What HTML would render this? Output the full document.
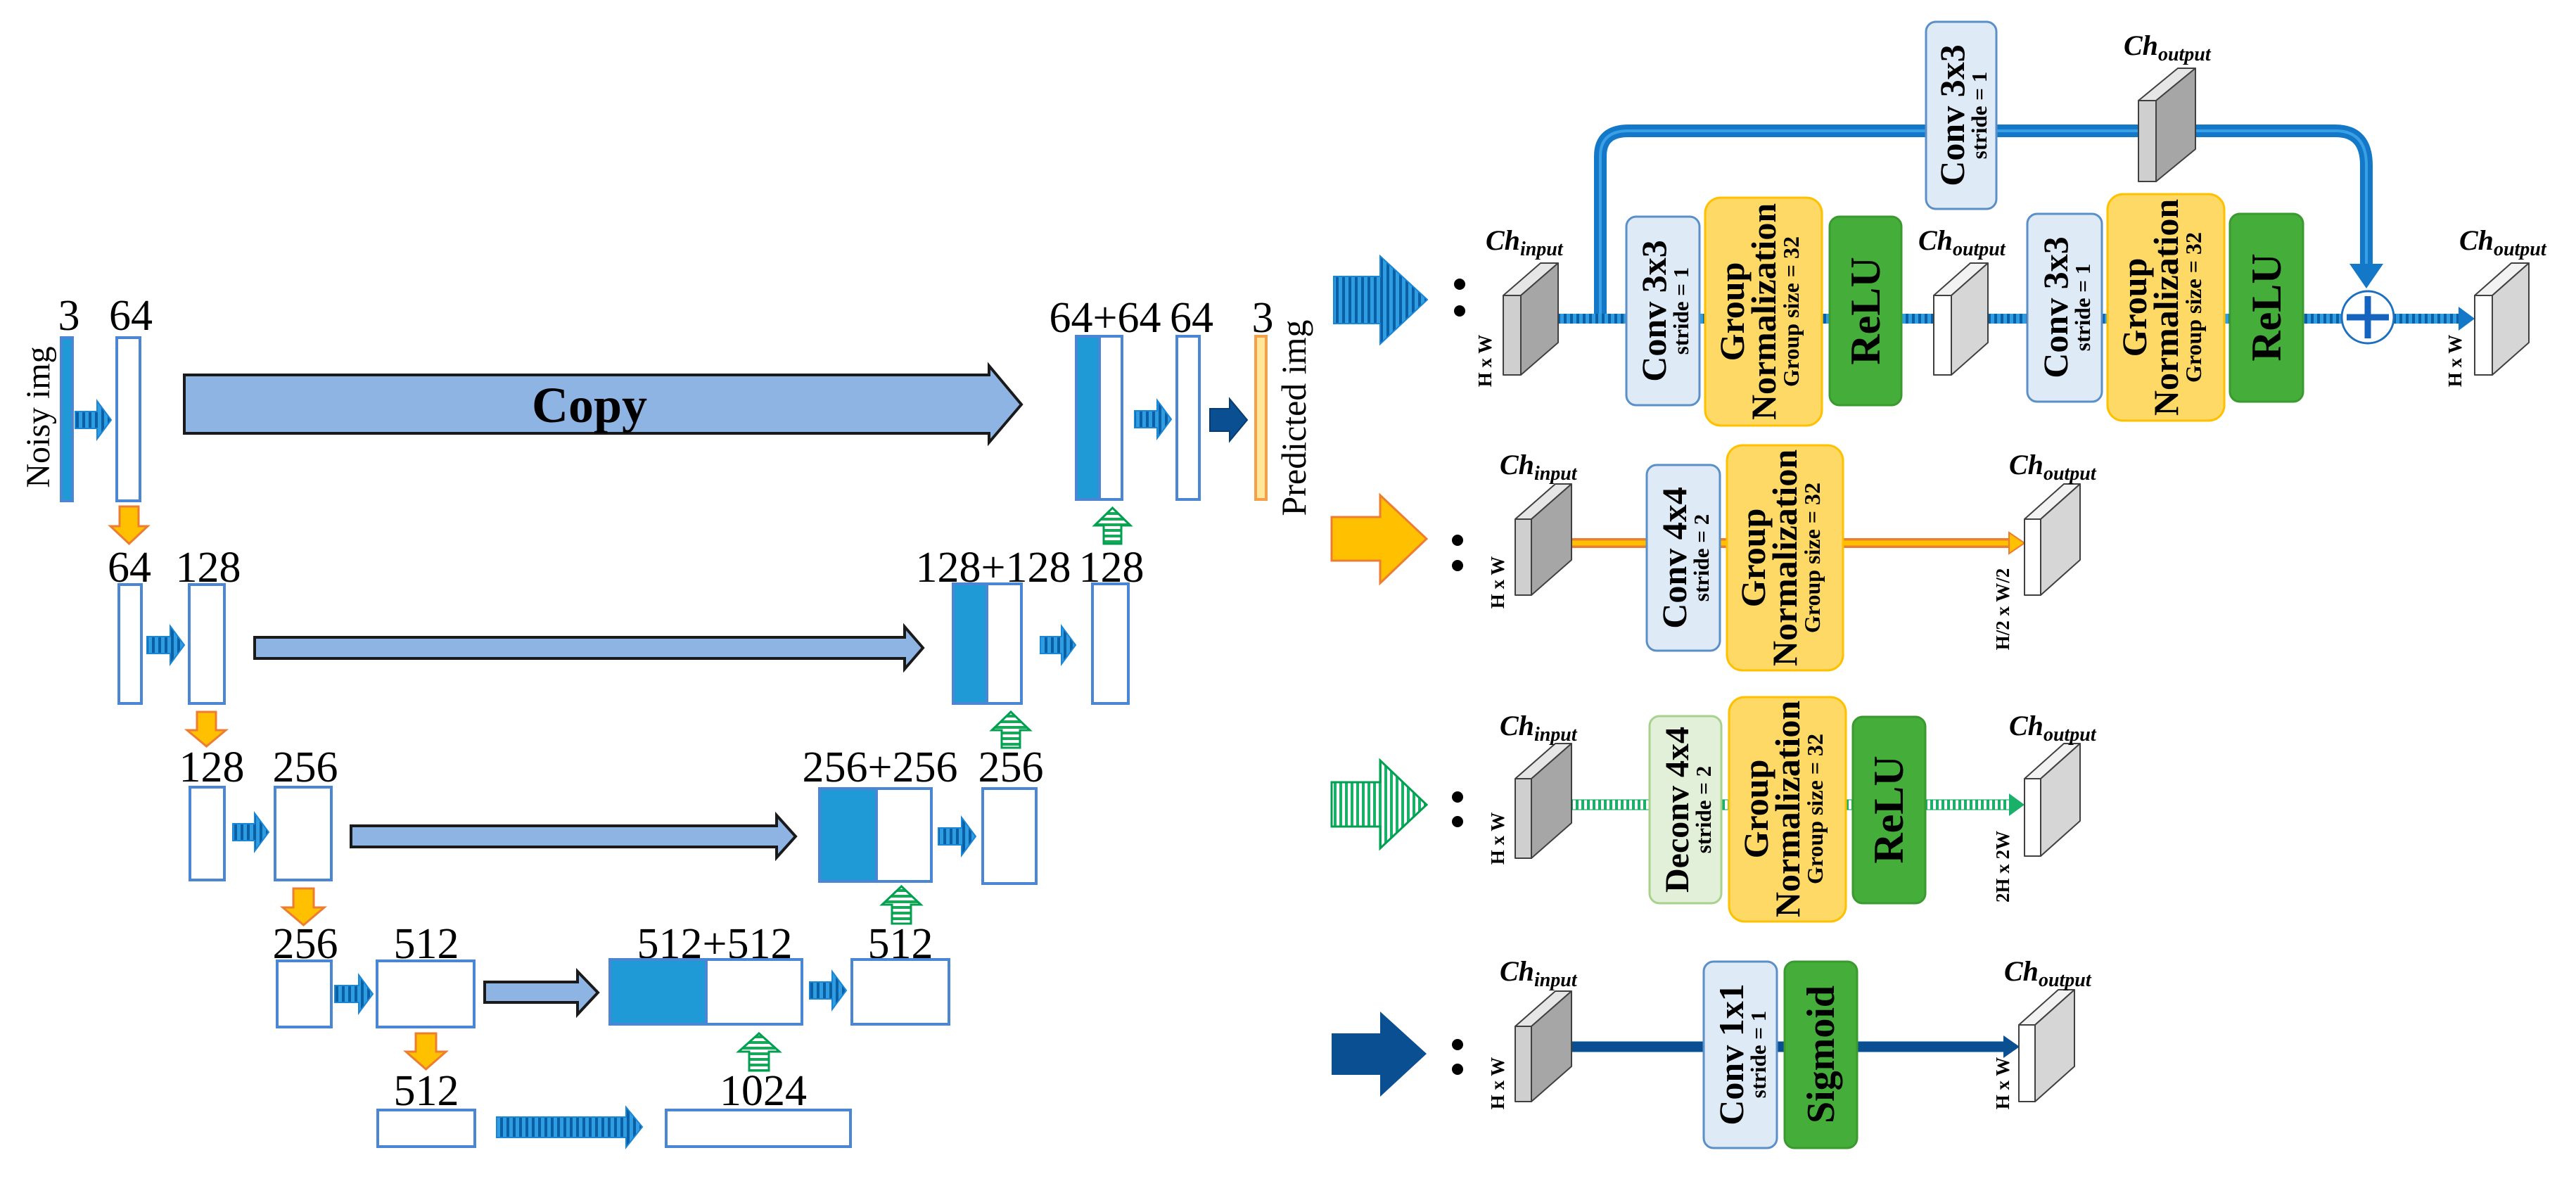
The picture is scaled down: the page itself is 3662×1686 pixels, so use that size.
<!DOCTYPE html>
<html><head><meta charset="utf-8"><style>
html,body{margin:0;padding:0;background:#fff;}
svg{display:block;}
text{font-family:"Liberation Serif",serif;}
</style></head><body>
<svg width="3662" height="1686" viewBox="0 0 3662 1686" xmlns="http://www.w3.org/2000/svg" font-family="Liberation Serif, serif">
<defs>
<pattern id="sb" patternUnits="userSpaceOnUse" width="9" height="9"><rect width="9" height="9" fill="#2f9de2"/><rect width="4" height="9" fill="#0b5fa5"/></pattern>
<pattern id="sg" patternUnits="userSpaceOnUse" width="8" height="8"><rect width="8" height="8" fill="#fff"/><rect width="4" height="8" fill="#19b06a"/></pattern>
<pattern id="sgh" patternUnits="userSpaceOnUse" width="8" height="8"><rect width="8" height="8" fill="#fff"/><rect width="8" height="4" fill="#19a85a"/></pattern>
</defs>

<!-- ================= U-NET ================= -->
<g font-size="62" text-anchor="middle" fill="#000">
<text x="98" y="469">3</text><text x="186" y="469">64</text>
<text x="1571" y="472">64+64</text><text x="1694" y="472">64</text><text x="1795" y="472">3</text>
<text x="184" y="827">64</text><text x="296" y="827">128</text><text x="1412" y="827">128+128</text><text x="1580" y="827">128</text>
<text x="301" y="1111">128</text><text x="434" y="1111">256</text><text x="1251" y="1111">256+256</text><text x="1437" y="1111">256</text>
<text x="434" y="1362">256</text><text x="606" y="1362">512</text><text x="1016" y="1362">512+512</text><text x="1280" y="1362">512</text>
<text x="606" y="1571">512</text><text x="1085" y="1571">1024</text>
</g>
<text transform="translate(70,593) rotate(-90)" font-size="48" text-anchor="middle">Noisy img</text>
<text transform="translate(1856,594) rotate(-90)" font-size="50" text-anchor="middle">Predicted img</text>

<g stroke="#4a86d4" stroke-width="4" fill="#fff">
<rect x="87" y="480" width="16" height="232" fill="#1f9ad6"/>
<rect x="166" y="480" width="33" height="232"/>
<rect x="1530" y="478" width="65" height="232"/>
<rect x="1530" y="478" width="33" height="232" fill="#1f9ad6"/>
<rect x="1673" y="478" width="32" height="232"/>
<rect x="169" y="831" width="32" height="169"/>
<rect x="269" y="831" width="50" height="169"/>
<rect x="1355" y="830" width="97" height="170"/>
<rect x="1355" y="830" width="48" height="170" fill="#1f9ad6"/>
<rect x="1553" y="830" width="51" height="170"/>
<rect x="270" y="1119" width="49" height="132"/>
<rect x="391" y="1119" width="80" height="132"/>
<rect x="1165" y="1121" width="159" height="132"/>
<rect x="1165" y="1121" width="81" height="132" fill="#1f9ad6"/>
<rect x="1397" y="1121" width="76" height="135"/>
<rect x="394" y="1366" width="77" height="94"/>
<rect x="536" y="1366" width="138" height="94"/>
<rect x="867" y="1364" width="273" height="92"/>
<rect x="867" y="1364" width="137" height="92" fill="#1f9ad6"/>
<rect x="1211" y="1364" width="138" height="92"/>
<rect x="537" y="1578" width="138" height="52"/>
<rect x="947" y="1578" width="262" height="52"/>
</g>
<rect x="1785" y="478" width="15" height="232" fill="#ffe699" stroke="#f4a04a" stroke-width="4"/>

<g fill="#8eb4e3" stroke="#1a1a1a" stroke-width="4">
<polygon points="262,533 1406,533 1406,520 1452,575 1406,629 1406,616 262,616"/>
<polygon points="362,906 1286,906 1286,891 1312,921 1286,951 1286,936 362,936"/>
<polygon points="499,1174 1104,1174 1104,1159 1131,1189 1104,1219 1104,1204 499,1204"/>
<polygon points="689,1396 821,1396 821,1381 850,1411 821,1442 821,1425 689,1425"/>
</g>
<text x="838" y="600" font-size="72" font-weight="bold" text-anchor="middle">Copy</text>

<g fill="url(#sb)" stroke="#1a86d6" stroke-width="2">
<polygon points="107,585 138,585 138,570 158,597 138,624 138,609 107,609"/>
<polygon points="209,905 242,905 242,890 262,917 242,944 242,929 209,929"/>
<polygon points="331,1171 362,1171 362,1156 382,1183 362,1210 362,1195 331,1195"/>
<polygon points="476,1401 510,1401 510,1386 530,1413 510,1440 510,1425 476,1425"/>
<polygon points="1151,1396 1183,1396 1183,1381 1203,1408 1183,1435 1183,1420 1151,1420"/>
<polygon points="1334,1177 1367,1177 1367,1162 1387,1189 1367,1216 1367,1201 1334,1201"/>
<polygon points="1479,905 1509,905 1509,890 1529,917 1509,944 1509,929 1479,929"/>
<polygon points="1613,584 1645,584 1645,569 1665,596 1645,623 1645,608 1613,608"/>
<polygon points="706,1588 890,1588 890,1574 913,1602 890,1631 890,1617 706,1617"/>
</g>
<polygon points="1720,581 1748,581 1748,567 1773,597 1748,627 1748,613 1720,613" fill="#0b4f93" stroke="#083b70" stroke-width="2"/>

<g fill="#ffc000" stroke="#ed7d31" stroke-width="3">
<polygon points="170,720 197,720 197,748 210,748 183.5,773 157,748 170,748"/>
<polygon points="280,1012 307,1012 307,1038 321,1038 293.5,1061 266,1038 280,1038"/>
<polygon points="417,1263 446,1263 446,1290 461,1290 431.5,1315 402,1290 417,1290"/>
<polygon points="591,1469 620,1469 620,1495 634,1495 605.5,1520 577,1495 591,1495"/>
</g>
<g fill="url(#sgh)" stroke="#00a050" stroke-width="3">
<polygon points="1581.5,722 1607,747 1594,747 1594,773 1569,773 1569,747 1556,747"/>
<polygon points="1437,1012 1464,1038 1450,1038 1450,1063 1424,1063 1424,1038 1410,1038"/>
<polygon points="1281.5,1260 1309,1286 1295,1286 1295,1313 1268,1313 1268,1286 1254,1286"/>
<polygon points="1079,1469 1108,1495 1093,1495 1093,1522 1065,1522 1065,1495 1050,1495"/>
</g>

<!-- ================= RIGHT BLOCKS ================= -->
<polygon points="1896,393 1962,393 1962,364 2029,426 1962,489 1962,460 1896,460" fill="url(#sb)" stroke="#1a86d6" stroke-width="2"/>
<polygon points="1893,735 1962,735 1962,704 2028,766 1962,829 1962,797 1893,797" fill="#ffc000" stroke="#ed7d31" stroke-width="3"/>
<polygon points="1893,1112 1962,1112 1962,1081 2028,1144 1962,1206 1962,1175 1893,1175" fill="url(#sg)" stroke="#00a050" stroke-width="3"/>
<polygon points="1893,1469 1962,1469 1962,1438 2028,1498 1962,1559 1962,1528 1893,1528" fill="#0b4f93"/>
<g fill="#000">
<circle cx="2075" cy="404" r="8"/><circle cx="2075" cy="442" r="8"/>
<circle cx="2072" cy="768" r="8"/><circle cx="2072" cy="804" r="8"/>
<circle cx="2072" cy="1133" r="8"/><circle cx="2072" cy="1168" r="8"/>
<circle cx="2072" cy="1485" r="8"/><circle cx="2072" cy="1520" r="8"/>
</g>

<path d="M2275,452 V222 Q2275,186 2315,186 H3320 Q3364,186 3364,235 V380" fill="none" stroke="#1478c8" stroke-width="18"/>
<path d="M2275,452 V222 Q2275,186 2315,186 H3320 Q3364,186 3364,235 V380" fill="none" stroke="#3aa0e6" stroke-width="4"/>
<polygon points="3340,375 3388,375 3364,410" fill="#1478c8"/>
<rect x="2215" y="446" width="1285" height="14" fill="url(#sb)"/>
<polygon points="3495,436 3518,453 3495,470" fill="#1478c8"/>
<circle cx="3366" cy="451" r="37" fill="#fff" stroke="#1f6fc0" stroke-width="3"/>
<path d="M3336,451 H3396 M3366,421 V481" stroke="#1565c0" stroke-width="9"/>

<line x1="2234" y1="772" x2="2860" y2="772" stroke="#ed7d31" stroke-width="14"/>
<line x1="2234" y1="772" x2="2860" y2="772" stroke="#ffc000" stroke-width="7"/>
<polygon points="2856,757 2878,772 2856,787" fill="#ffc000" stroke="#ed7d31" stroke-width="2"/>
<rect x="2234" y="1137" width="624" height="14" fill="url(#sg)" stroke="#00a050" stroke-width="1"/>
<polygon points="2856,1128 2878,1144 2856,1160" fill="#19b06a"/>
<line x1="2234" y1="1488" x2="2852" y2="1488" stroke="#0b4f93" stroke-width="15"/>
<polygon points="2848,1472 2871,1488 2848,1504" fill="#0b4f93"/>

<g stroke="#404040" stroke-width="2" stroke-linejoin="round">
<polygon points="2137,420 2162,420 2162,533 2137,533" fill="#cfcfcf"/><polygon points="2137,420 2190,374 2215,374 2162,420" fill="#e6e6e6"/><polygon points="2162,420 2215,374 2215,487 2162,533" fill="#a6a6a6"/>
<polygon points="3040,143 3065,143 3065,258 3040,258" fill="#cfcfcf"/><polygon points="3040,143 3096,97 3121,97 3065,143" fill="#e6e6e6"/><polygon points="3065,143 3121,97 3121,212 3065,258" fill="#a6a6a6"/>
<polygon points="2154,738 2177,738 2177,846 2154,846" fill="#cfcfcf"/><polygon points="2154,738 2211,688 2234,688 2177,738" fill="#e6e6e6"/><polygon points="2177,738 2234,688 2234,796 2177,846" fill="#a6a6a6"/>
<polygon points="2154,1107 2177,1107 2177,1220 2154,1220" fill="#cfcfcf"/><polygon points="2154,1107 2211,1057 2234,1057 2177,1107" fill="#e6e6e6"/><polygon points="2177,1107 2234,1057 2234,1170 2177,1220" fill="#a6a6a6"/>
<polygon points="2154,1459 2177,1459 2177,1566 2154,1566" fill="#cfcfcf"/><polygon points="2154,1459 2211,1409 2234,1409 2177,1459" fill="#e6e6e6"/><polygon points="2177,1459 2234,1409 2234,1516 2177,1566" fill="#a6a6a6"/>
<polygon points="2749,420 2774,420 2774,533 2749,533" fill="#fff"/><polygon points="2749,420 2801,374 2826,374 2774,420" fill="#f2f2f2"/><polygon points="2774,420 2826,374 2826,487 2774,533" fill="#d6d6d6"/>
<polygon points="3518,420 3543,420 3543,533 3518,533" fill="#fff"/><polygon points="3518,420 3570,374 3595,374 3543,420" fill="#f2f2f2"/><polygon points="3543,420 3595,374 3595,487 3543,533" fill="#d6d6d6"/>
<polygon points="2878,738 2901,738 2901,846 2878,846" fill="#fff"/><polygon points="2878,738 2934,688 2957,688 2901,738" fill="#f2f2f2"/><polygon points="2901,738 2957,688 2957,796 2901,846" fill="#d6d6d6"/>
<polygon points="2878,1107 2901,1107 2901,1217 2878,1217" fill="#fff"/><polygon points="2878,1107 2934,1057 2957,1057 2901,1107" fill="#f2f2f2"/><polygon points="2901,1107 2957,1057 2957,1167 2901,1217" fill="#d6d6d6"/>
<polygon points="2870,1457 2893,1457 2893,1566 2870,1566" fill="#fff"/><polygon points="2870,1457 2926,1407 2949,1407 2893,1457" fill="#f2f2f2"/><polygon points="2893,1457 2949,1407 2949,1516 2893,1566" fill="#d6d6d6"/>
</g>

<g stroke-width="3">
<rect x="2738" y="31" width="100" height="266" rx="14" fill="#deebf7" stroke="#5b8fc7"/>
<rect x="2312" y="308" width="104" height="268" rx="14" fill="#deebf7" stroke="#5b8fc7"/>
<rect x="2424" y="281" width="166" height="324" rx="22" fill="#ffd966" stroke="#ffc000"/>
<rect x="2601" y="308" width="102" height="268" rx="14" fill="#45ad3a" stroke="#3a9a30"/>
<rect x="2882" y="304" width="106" height="267" rx="14" fill="#deebf7" stroke="#5b8fc7"/>
<rect x="2996" y="276" width="166" height="322" rx="22" fill="#ffd966" stroke="#ffc000"/>
<rect x="3170" y="304" width="104" height="267" rx="14" fill="#45ad3a" stroke="#3a9a30"/>
<rect x="2341" y="661" width="104" height="264" rx="14" fill="#deebf7" stroke="#5b8fc7"/>
<rect x="2455" y="633" width="165" height="320" rx="22" fill="#ffd966" stroke="#ffc000"/>
<rect x="2345" y="1018" width="102" height="266" rx="14" fill="#e2f0d9" stroke="#a9d18e"/>
<rect x="2458" y="991" width="166" height="319" rx="22" fill="#ffd966" stroke="#ffc000"/>
<rect x="2634" y="1019" width="103" height="265" rx="14" fill="#45ad3a" stroke="#3a9a30"/>
<rect x="2422" y="1367" width="104" height="265" rx="14" fill="#deebf7" stroke="#5b8fc7"/>
<rect x="2537" y="1367" width="103" height="265" rx="14" fill="#45ad3a" stroke="#3a9a30"/>
</g>

<g font-weight="bold" text-anchor="middle" fill="#000">
<g transform="translate(2788,164) rotate(-90)"><text y="4" font-size="50">Conv 3x3</text><text y="36" font-size="31">stride = 1</text></g>
<g transform="translate(2364,442) rotate(-90)"><text y="4" font-size="50">Conv 3x3</text><text y="36" font-size="31">stride = 1</text></g>
<g transform="translate(2935,437) rotate(-90)"><text y="4" font-size="50">Conv 3x3</text><text y="36" font-size="31">stride = 1</text></g>
<g transform="translate(2393,793) rotate(-90)"><text y="4" font-size="50">Conv 4x4</text><text y="36" font-size="31">stride = 2</text></g>
<g transform="translate(2396,1151) rotate(-90)"><text y="4" font-size="48">Deconv 4x4</text><text y="36" font-size="31">stride = 2</text></g>
<g transform="translate(2474,1499) rotate(-90)"><text y="4" font-size="50">Conv 1x1</text><text y="36" font-size="31">stride = 1</text></g>
<g transform="translate(2507,443) rotate(-90)"><text y="-28" font-size="50">Group</text><text y="17" font-size="50">Normalization</text><text y="50" font-size="32">Group size = 32</text></g>
<g transform="translate(3079,437) rotate(-90)"><text y="-28" font-size="50">Group</text><text y="17" font-size="50">Normalization</text><text y="50" font-size="32">Group size = 32</text></g>
<g transform="translate(2537,793) rotate(-90)"><text y="-28" font-size="50">Group</text><text y="17" font-size="50">Normalization</text><text y="50" font-size="32">Group size = 32</text></g>
<g transform="translate(2541,1150) rotate(-90)"><text y="-28" font-size="50">Group</text><text y="17" font-size="50">Normalization</text><text y="50" font-size="32">Group size = 32</text></g>
<g transform="translate(2652,442) rotate(-90)"><text y="20" font-size="60">ReLU</text></g>
<g transform="translate(3222,437) rotate(-90)"><text y="20" font-size="60">ReLU</text></g>
<g transform="translate(2685,1151) rotate(-90)"><text y="20" font-size="60">ReLU</text></g>
<g transform="translate(2588,1499) rotate(-90)"><text y="19" font-size="56">Sigmoid</text></g>
<g font-size="27">
<text transform="translate(2120,513) rotate(-90)">H x W</text>
<text transform="translate(3499,513) rotate(-90)">H x W</text>
<text transform="translate(2138,828) rotate(-90)">H x W</text>
<text transform="translate(2856,866) rotate(-90)">H/2 x W/2</text>
<text transform="translate(2138,1192) rotate(-90)">H x W</text>
<text transform="translate(2856,1232) rotate(-90)">2H x 2W</text>
<text transform="translate(2138,1540) rotate(-90)">H x W</text>
<text transform="translate(2856,1540) rotate(-90)">H x W</text>
</g>
</g>

<g font-weight="bold" font-style="italic" font-size="40" fill="#000">
<text x="2112" y="355">Ch<tspan font-size="28" dy="8">input</tspan></text>
<text x="2727" y="355">Ch<tspan font-size="28" dy="8">output</tspan></text>
<text x="3496" y="355">Ch<tspan font-size="28" dy="8">output</tspan></text>
<text x="3019" y="78">Ch<tspan font-size="28" dy="8">output</tspan></text>
<text x="2132" y="674">Ch<tspan font-size="28" dy="8">input</tspan></text>
<text x="2856" y="674">Ch<tspan font-size="28" dy="8">output</tspan></text>
<text x="2132" y="1045">Ch<tspan font-size="28" dy="8">input</tspan></text>
<text x="2856" y="1045">Ch<tspan font-size="28" dy="8">output</tspan></text>
<text x="2132" y="1394">Ch<tspan font-size="28" dy="8">input</tspan></text>
<text x="2849" y="1394">Ch<tspan font-size="28" dy="8">output</tspan></text>
</g>
</svg>
</body></html>
